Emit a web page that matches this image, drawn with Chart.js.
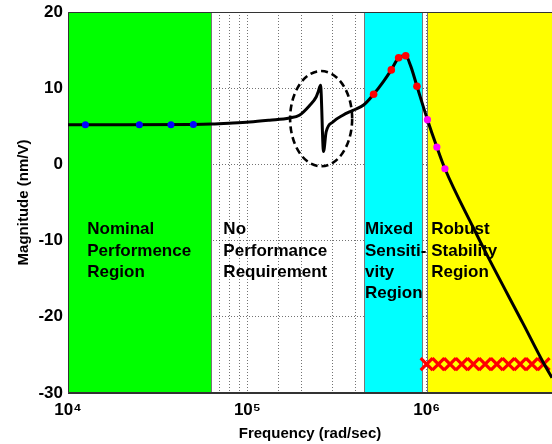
<!DOCTYPE html>
<html>
<head>
<meta charset="utf-8">
<script src="https://cdn.jsdelivr.net/npm/chart.js@4/dist/chart.umd.min.js"></script>
<style>
  body { margin: 0; background: #fff; }
  #wrap { width: 552px; height: 444px; }
</style>
</head>
<body>
<div id="wrap"><canvas id="bodeChart" width="552" height="444"></canvas></div>
<script>
// frequency response (rad/sec) and magnitude (nm/V)
const freq = [1e4, 2e4, 5e4, 6.3e4, 7.9e4, 1.03e5, 1.33e5, 1.72e5, 1.95e5, 2.22e5, 2.42e5, 2.49e5,
  2.56e5, 2.66e5, 2.75e5, 3.0e5, 3.41e5, 3.88e5, 4.45e5, 5.06e5, 5.75e5, 6.35e5, 6.98e5, 7.64e5,
  8.15e5, 8.83e5, 1.01e6, 1.14e6, 1.265e6, 1.815e6, 2.25e6, 3.45e6, 4.47e6, 5e6];
const magnitude = [5.2, 5.2, 5.25, 5.3, 5.4, 5.55, 5.8, 6.1, 6.45, 7.7, 8.85, 9.6,
  10.4, 1.7, 4.25, 5.57, 6.45, 7.1, 7.8, 9.2, 10.9, 12.4, 14.0, 14.25,
  12.9, 10.25, 5.87, 2.28, -0.57, -8.25, -12.6, -20.9, -26, -28];

// marker points along the curve
const blueFreq = [1.25e4, 2.5e4, 3.75e4, 5e4];
const blueMag = [5.2, 5.2, 5.2, 5.25];
const redFreq = [5.06e5, 6.35e5, 6.98e5, 7.64e5, 8.83e5];
const redMag = [9.2, 12.4, 14.0, 14.25, 10.25];
const magentaFreq = [1.01e6, 1.14e6, 1.265e6];
const magentaMag = [5.87, 2.28, -0.57];

// robust stability bound (red crosses)
const boundFreq = [1e6, 1.162e6, 1.35e6, 1.569e6, 1.823e6, 2.118e6, 2.461e6, 2.86e6, 3.323e6, 3.862e6, 4.487e6];
const boundMag = [-26.2, -26.2, -26.2, -26.2, -26.2, -26.2, -26.2, -26.2, -26.2, -26.2, -26.2];

// shaded regions
const regionStart = [1e4, 4.45e5, 1e6];
const regionEnd = [6.37e4, 9.6e5, 5e6];
const regionColors = ["#00ff00", "#00ffff", "#ffff00"];

// region captions
const captionFreq = [1.28e4, 7.35e4, 4.53e5, 1.06e6];
const captionMag = -8.55;
const captions = [
  ["Nominal", "Performence", "Region"],
  ["No", "Performance", "Requirement"],
  ["Mixed", "Sensiti-", "vity", "Region"],
  ["Robust", "Stability", "Region"]
];

// dashed ellipse round the resonance: centre (freq, mag), half width in decades, half height in nm/V
const ellipseCenter = [2.58e5, 6.0];
const ellipseHalf = [0.173, 6.25];

const xMin = 1e4, xMax = 5e6;
const yMin = -30, yMax = 20;

const FONT = '"Liberation Sans", Arial, sans-serif';
const sup = { "4": "\u2074", "5": "\u2075", "6": "\u2076", "7": "\u2077" };

function toPoints(xs, ys) {
  return xs.map((v, i) => ({ x: v, y: ys[i] }));
}

// no extra padding round the plot box, the frame goes to the canvas edge on the right
function noPadding(scale) {
  scale.paddingLeft = 0;
  scale.paddingRight = 0;
  scale.paddingTop = 0;
  scale.paddingBottom = 0;
}

// draws the coloured regions, the frame and the captions under the curve
const regionPlugin = {
  id: "regions",
  beforeDatasetsDraw(chart) {
    const { ctx, chartArea, scales: { x, y } } = chart;
    ctx.save();
    regionStart.forEach((start, i) => {
      const left = Math.max(Math.round(x.getPixelForValue(start)), chartArea.left);
      const right = Math.min(Math.round(x.getPixelForValue(regionEnd[i])), chartArea.right);
      ctx.fillStyle = regionColors[i];
      ctx.fillRect(left, chartArea.top, right - left, chartArea.bottom - chartArea.top);
      ctx.strokeStyle = "#777";
      ctx.lineWidth = 1;
      ctx.beginPath();
      ctx.moveTo(left + 0.5, chartArea.top);
      ctx.lineTo(left + 0.5, chartArea.bottom);
      if (right < chartArea.right) {
        ctx.moveTo(right - 0.5, chartArea.top);
        ctx.lineTo(right - 0.5, chartArea.bottom);
      }
      ctx.stroke();
    });

    // frame (top, left, bottom)
    ctx.strokeStyle = "#333";
    ctx.lineWidth = 1;
    ctx.beginPath();
    ctx.moveTo(chartArea.right, Math.round(chartArea.top) + 0.5);
    ctx.lineTo(Math.round(chartArea.left) + 0.5, Math.round(chartArea.top) + 0.5);
    ctx.lineTo(Math.round(chartArea.left) + 0.5, Math.round(chartArea.bottom) - 0.5);
    ctx.lineTo(chartArea.right, Math.round(chartArea.bottom) - 0.5);
    ctx.stroke();

    // captions
    ctx.fillStyle = "#000";
    ctx.font = "bold 17px " + FONT;
    ctx.textAlign = "left";
    ctx.textBaseline = "middle";
    const top = y.getPixelForValue(captionMag);
    captions.forEach((lines, i) => {
      const left = x.getPixelForValue(captionFreq[i]);
      lines.forEach((line, j) => {
        ctx.fillText(line, left, top + j * 21.3);
      });
    });
    ctx.restore();
  },
  afterDatasetsDraw(chart) {
    const { ctx, scales: { x, y } } = chart;
    const f = ellipseCenter[0], m = ellipseCenter[1];
    const k = Math.pow(10, ellipseHalf[0]);
    const cx = x.getPixelForValue(f);
    const rx = (x.getPixelForValue(f * k) - x.getPixelForValue(f / k)) / 2;
    const cy = y.getPixelForValue(m);
    const ry = Math.abs(y.getPixelForValue(m + ellipseHalf[1]) - y.getPixelForValue(m - ellipseHalf[1])) / 2;
    ctx.save();
    ctx.strokeStyle = "#000";
    ctx.lineWidth = 2.6;
    ctx.setLineDash([7, 4]);
    ctx.beginPath();
    ctx.ellipse(cx, cy, rx, ry, 0, 0, Math.PI * 2);
    ctx.stroke();
    ctx.restore();
  }
};

function drawChart() {
  const ctx = document.getElementById("bodeChart").getContext("2d");
  new Chart(ctx, {
    type: "scatter",
    data: {
      datasets: [
        {
          // magnitude curve
          data: toPoints(freq, magnitude),
          showLine: true,
          borderColor: "#000",
          borderWidth: 3,
          pointRadius: 0,
          cubicInterpolationMode: "monotone",
          order: 1
        },
        {
          data: toPoints(blueFreq, blueMag),
          pointRadius: 3.5,
          pointBackgroundColor: "#0000ff",
          pointBorderWidth: 0,
          order: 0
        },
        {
          data: toPoints(redFreq, redMag),
          pointRadius: 3.8,
          pointBackgroundColor: "#ff0000",
          pointBorderWidth: 0,
          order: 0
        },
        {
          data: toPoints(magentaFreq, magentaMag),
          pointRadius: 3.6,
          pointBackgroundColor: "#ff00ff",
          pointBorderWidth: 0,
          order: 0
        },
        {
          data: toPoints(boundFreq, boundMag),
          pointStyle: "crossRot",
          pointRadius: 8.5,
          pointBorderColor: "#ff0000",
          pointBorderWidth: 3.2,
          order: 2
        }
      ]
    },
    options: {
      responsive: false,
      animation: false,
      layout: { autoPadding: false, padding: { top: 12, left: 0, right: 0, bottom: 0 } },
      plugins: {
        legend: { display: false },
        tooltip: { enabled: false }
      },
      scales: {
        x: {
          type: "logarithmic",
          min: xMin,
          max: xMax,
          afterFit: scale => { scale.height = 51; noPadding(scale); },
          grid: { color: "rgba(0,0,0,0.55)", drawTicks: false },
          border: { display: true, color: "#333", dash: [1, 2] },
          ticks: {
            autoSkip: false,
            maxRotation: 0,
            padding: 7,
            color: "#000",
            font: { size: 17, weight: "bold", family: FONT },
            callback: value => {
              const p = Math.log10(value);
              if (Math.abs(p - Math.round(p)) < 1e-9) return "10" + sup[String(Math.round(p))];
              return "";
            }
          },
          title: {
            display: true,
            text: "Frequency (rad/sec)",
            color: "#000",
            font: { size: 15, weight: "bold", family: FONT },
            padding: { top: 0, bottom: 1 }
          }
        },
        y: {
          min: yMin,
          max: yMax,
          afterFit: scale => { scale.width = 68; noPadding(scale); },
          grid: { color: "rgba(0,0,0,0.55)", drawTicks: false },
          border: { display: true, color: "#333", dash: [1, 2] },
          ticks: {
            stepSize: 10,
            padding: 5,
            color: "#000",
            font: { size: 17, weight: "bold", family: FONT }
          },
          title: {
            display: true,
            text: "Magnitude (nm/V)",
            color: "#000",
            font: { size: 15, weight: "bold", family: FONT },
            padding: { top: 15, bottom: 0 }
          }
        }
      }
    },
    plugins: [regionPlugin]
  });
}

document.addEventListener("DOMContentLoaded", drawChart);
</script>
</body>
</html>
